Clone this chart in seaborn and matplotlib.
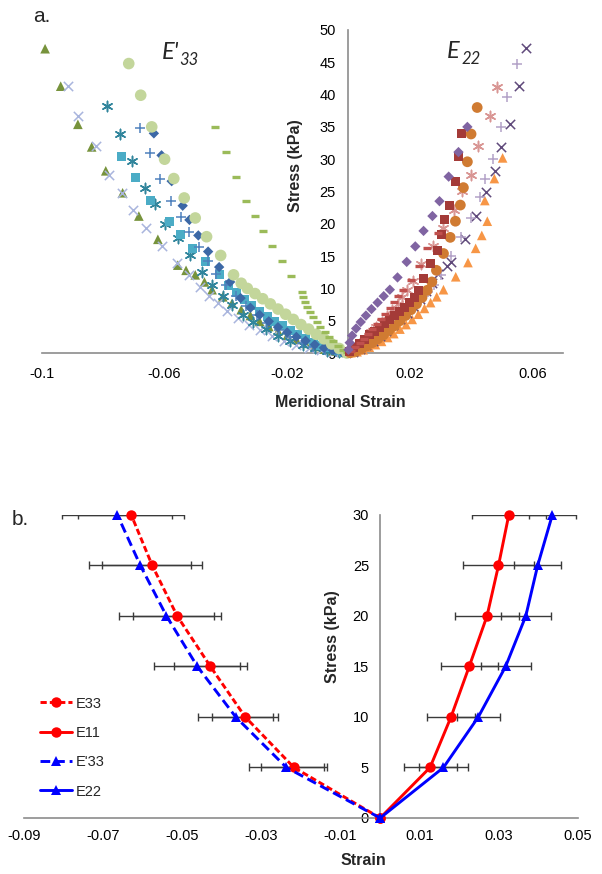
import numpy as np
import pandas as pd
import seaborn as sns
import matplotlib.pyplot as plt

# ---------------- panel a: individual specimens (strain, stress kPa) ----------------
# left branch, E'33
tri_g_x = [-0.0990, -0.0939, -0.0883, -0.0838, -0.0792, -0.0737, -0.0684, -0.0622, -0.0557, -0.0530, -0.0500,
           -0.0470, -0.0445, -0.0410, -0.0380, -0.0350, -0.0320, -0.0290, -0.0260, -0.0230, -0.0200, -0.0170,
           -0.0140, -0.0110, -0.0080, -0.0050, -0.0020]
tri_g_y = [47.1, 41.3, 35.4, 31.9, 28.2, 24.8, 21.2, 17.6, 13.6, 12.8, 12.1, 11.0, 9.8, 8.7, 7.7, 6.7, 5.8, 4.9,
           4.1, 3.4, 2.7, 2.1, 1.5, 1.0, 0.6, 0.3, 0.1]
xl_x = [-0.0915, -0.0883, -0.0825, -0.0782, -0.0740, -0.0704, -0.0660, -0.0610, -0.0560, -0.0520, -0.0485,
        -0.0455, -0.0425, -0.0395, -0.0360, -0.0325, -0.0290, -0.0250, -0.0210, -0.0170, -0.0130, -0.0090, -0.0050]
xl_y = [41.3, 36.7, 32.1, 27.6, 24.8, 22.1, 19.3, 16.5, 14.0, 12.0, 10.2, 8.9, 7.8, 6.5, 5.4, 4.4, 3.5, 2.7, 1.9,
        1.3, 0.8, 0.4, 0.2]
ast_t_x = [-0.0789, -0.0746, -0.0707, -0.0665, -0.0632, -0.0600, -0.0557, -0.0518, -0.0478, -0.0445, -0.0410,
           -0.0380, -0.0345, -0.0310, -0.0270, -0.0230, -0.0190, -0.0150, -0.0110, -0.0070, -0.0030]
ast_t_y = [38.2, 33.9, 29.7, 25.5, 23.0, 20.0, 17.8, 15.2, 12.6, 10.5, 8.9, 7.4, 5.9, 4.8, 3.7, 2.7, 1.9, 1.2,
           0.7, 0.3, 0.1]
sq_c_x = [-0.0740, -0.0694, -0.0645, -0.0585, -0.0548, -0.0508, -0.0466, -0.0420, -0.0390, -0.0365, -0.0340,
          -0.0315, -0.0290, -0.0265, -0.0240, -0.0215, -0.0190, -0.0165, -0.0140, -0.0115, -0.0090, -0.0065,
          -0.0040, -0.0015]
sq_c_y = [30.4, 27.1, 23.6, 20.4, 18.4, 16.2, 14.1, 12.1, 10.4, 9.3, 8.3, 7.3, 6.5, 5.7, 4.9, 4.2, 3.5, 2.9,
          2.3, 1.7, 1.2, 0.8, 0.4, 0.1]
pl_b_x = [-0.0681, -0.0649, -0.0614, -0.0578, -0.0548, -0.0520, -0.0489, -0.0460, -0.0432, -0.0400, -0.0368,
          -0.0335, -0.0300, -0.0265, -0.0228, -0.0190, -0.0152, -0.0115, -0.0078, -0.0040]
pl_b_y = [34.8, 31.0, 27.0, 23.5, 21.0, 18.7, 16.4, 14.2, 12.3, 10.5, 8.8, 7.3, 5.9, 4.6, 3.5, 2.5, 1.6, 0.9,
          0.4, 0.15]
dm_b_x = [-0.0635, -0.0610, -0.0577, -0.0541, -0.0519, -0.0490, -0.0458, -0.0422, -0.0386, -0.0352, -0.0320,
          -0.0290, -0.0260, -0.0230, -0.0200, -0.0170, -0.0140, -0.0110, -0.0080, -0.0050, -0.0020]
dm_b_y = [34.0, 30.6, 26.6, 22.8, 20.6, 18.2, 15.7, 13.3, 11.0, 8.5, 7.0, 5.9, 4.9, 4.0, 3.2, 2.5, 1.9, 1.3,
          0.8, 0.4, 0.1]
ci_g_x = [-0.0717, -0.0678, -0.0642, -0.0600, -0.0570, -0.0536, -0.0500, -0.0463, -0.0417, -0.0375, -0.0350,
          -0.0330, -0.0305, -0.0280, -0.0255, -0.0230, -0.0205, -0.0180, -0.0155, -0.0130, -0.0105, -0.0080,
          -0.0055, -0.0030, -0.0005]
ci_g_y = [44.8, 39.9, 35.0, 30.0, 27.0, 24.0, 20.9, 18.0, 15.1, 12.1, 10.8, 10.0, 9.2, 8.4, 7.6, 6.8, 6.0, 5.2,
          4.4, 3.7, 2.9, 2.2, 1.4, 0.7, 0.0]
da_g_x = [-0.0434, -0.0401, -0.0368, -0.0333, -0.0306, -0.0280, -0.0251, -0.0218, -0.0187, -0.0153, -0.0148,
          -0.0141, -0.0134, -0.0125, -0.0115, -0.0104, -0.0092, -0.0078, -0.0064, -0.0049, -0.0034, -0.0018,
          -0.0005]
da_g_y = [35.0, 31.1, 27.3, 23.5, 21.2, 18.9, 16.6, 14.2, 11.9, 9.5, 8.7, 7.9, 7.1, 6.3, 5.5, 4.8, 4.0, 3.2,
          2.5, 1.8, 1.1, 0.5, 0.1]

# right branch, E22
tri_o_x = [0.0503, 0.0476, 0.0445, 0.0453, 0.0435, 0.0415, 0.0390, 0.0350, 0.0310, 0.0288, 0.0268, 0.0248,
           0.0228, 0.0208, 0.0188, 0.0168, 0.0148, 0.0128, 0.0108, 0.0088, 0.0068, 0.0048, 0.0028, 0.0008]
tri_o_y = [30.2, 27.0, 23.6, 20.4, 18.2, 16.2, 14.0, 11.8, 9.8, 8.7, 7.8, 6.9, 6.0, 5.2, 4.4, 3.7, 3.0, 2.4,
           1.8, 1.3, 0.9, 0.5, 0.2, 0.05]
xd_x = [0.0580, 0.0557, 0.0528, 0.0499, 0.0479, 0.0450, 0.0417, 0.0380, 0.0336, 0.0320, 0.0292, 0.0272, 0.0252,
        0.0232, 0.0211, 0.0190, 0.0168, 0.0146, 0.0124, 0.0102, 0.0080, 0.0058, 0.0036, 0.0014]
xd_y = [47.2, 41.3, 35.5, 31.9, 28.2, 24.9, 21.2, 17.6, 14.1, 13.5, 12.2, 10.8, 9.6, 8.4, 7.3, 6.2, 5.2, 4.3,
        3.4, 2.6, 1.9, 1.2, 0.6, 0.2]
pl_l_x = [0.0551, 0.0518, 0.0499, 0.0472, 0.0445, 0.0428, 0.0400, 0.0368, 0.0336, 0.0303, 0.0280, 0.0258,
          0.0236, 0.0214, 0.0192, 0.0170, 0.0148, 0.0126, 0.0104, 0.0082, 0.0060, 0.0038, 0.0016]
pl_l_y = [44.7, 39.7, 35.0, 30.0, 27.0, 24.1, 20.9, 17.9, 15.0, 12.1, 10.6, 9.4, 8.3, 7.3, 6.3, 5.4, 4.5, 3.7,
          2.9, 2.2, 1.5, 0.9, 0.3]
ast_p_x = [0.0486, 0.0462, 0.0424, 0.0401, 0.0372, 0.0345, 0.0307, 0.0277, 0.0238, 0.0209, 0.0190, 0.0176,
           0.0160, 0.0143, 0.0126, 0.0108, 0.0090, 0.0072, 0.0054, 0.0036, 0.0018, 0.0004]
ast_p_y = [41.2, 36.7, 32.1, 27.6, 25.0, 22.1, 19.3, 16.5, 13.8, 11.2, 9.8, 8.6, 7.6, 6.6, 5.7, 4.8, 4.0, 3.2,
           2.4, 1.6, 0.8, 0.2]
ci_o_x = [0.0420, 0.0400, 0.0388, 0.0375, 0.0365, 0.0349, 0.0332, 0.0310, 0.0287, 0.0272, 0.0257, 0.0240,
          0.0222, 0.0204, 0.0186, 0.0168, 0.0150, 0.0132, 0.0114, 0.0096, 0.0078, 0.0060, 0.0042, 0.0024, 0.0006]
ci_o_y = [38.0, 33.9, 29.6, 25.6, 22.9, 20.4, 17.9, 15.4, 12.8, 11.0, 9.7, 8.6, 7.6, 6.7, 5.8, 5.0, 4.2, 3.5,
          2.8, 2.2, 1.6, 1.1, 0.6, 0.25, 0.05]
sq_r_x = [0.0368, 0.0358, 0.0349, 0.0329, 0.0312, 0.0303, 0.0290, 0.0268, 0.0245, 0.0230, 0.0215, 0.0199,
          0.0182, 0.0166, 0.0150, 0.0134, 0.0117, 0.0101, 0.0085, 0.0068, 0.0052, 0.0036, 0.0018, 0.0003]
sq_r_y = [34.0, 30.4, 26.6, 22.9, 20.6, 18.3, 15.9, 13.8, 11.5, 9.6, 8.6, 7.8, 7.1, 6.5, 5.8, 5.2, 4.6, 4.0,
          3.4, 2.8, 2.1, 1.4, 0.8, 0.2]
da_r_x = [0.0292, 0.0255, 0.0230, 0.0203, 0.0177, 0.0162, 0.0148, 0.0134, 0.0120, 0.0106, 0.0092, 0.0078,
          0.0064, 0.0050, 0.0036, 0.0022, 0.0008]
da_r_y = [18.5, 16.3, 13.5, 11.3, 9.8, 8.8, 7.9, 7.0, 6.1, 5.3, 4.5, 3.7, 2.9, 2.2, 1.5, 0.9, 0.3]
dm_p_x = [0.0388, 0.0359, 0.0327, 0.0297, 0.0274, 0.0245, 0.0218, 0.0190, 0.0160, 0.0135, 0.0115, 0.0095,
          0.0075, 0.0057, 0.0040, 0.0025, 0.0012, 0.0004, 0.0000]
dm_p_y = [35.0, 31.1, 27.3, 23.5, 21.2, 18.9, 16.5, 14.1, 11.7, 9.8, 8.8, 7.8, 6.8, 5.8, 4.8, 3.8, 2.7, 1.6, 0.5]

top_xticks = [-0.1, -0.06, -0.02, 0.02, 0.06]
top_xticklabels = ['-0.1', '-0.06', '-0.02', '0.02', '0.06']
top_yticks = [0, 5, 10, 15, 20, 25, 30, 35, 40, 45, 50]

# ---------------- panel b: means with SD ----------------
stress = [0, 5, 10, 15, 20, 25, 30]
e33_x = [0, -0.0218, -0.0341, -0.0429, -0.0513, -0.0576, -0.0629]
e33_sd = [0, 0.0083, 0.0083, 0.0092, 0.0111, 0.0126, 0.0134]
e11_x = [0, 0.0126, 0.0179, 0.0225, 0.0270, 0.0299, 0.0325]
e11_sd = [0, 0.0067, 0.0060, 0.0072, 0.0082, 0.0089, 0.0093]
e33p_x = [0, -0.0237, -0.0365, -0.0462, -0.0540, -0.0606, -0.0664]
e33p_sd = [0, 0.0095, 0.0095, 0.0109, 0.0120, 0.0129, 0.0139]
e22_x = [0, 0.0160, 0.0248, 0.0317, 0.0368, 0.0398, 0.0435]
e22_sd = [0, 0.0061, 0.0055, 0.0063, 0.0063, 0.0059, 0.0060]

bot_xticks = [-0.09, -0.07, -0.05, -0.03, -0.01, 0.01, 0.03, 0.05]
bot_xticklabels = ['-0.09', '-0.07', '-0.05', '-0.03', '-0.01', '0.01', '0.03', '0.05']
bot_yticks = [0, 5, 10, 15, 20, 25, 30]

sns.set_style('white')
plt.rcParams['font.family'] = ['Liberation Sans', 'DejaVu Sans']
plt.rcParams['lines.scale_dashes'] = False

fig = plt.figure(figsize=(6.02, 8.74), dpi=100)
ax1 = fig.add_axes([0.0698, 0.5961, 0.8654, 0.3696])
ax2 = fig.add_axes([0.0399, 0.0641, 0.9203, 0.3467])

ast = (6, 2, 0)
# (x, y, marker, colour, size, linewidth, filled)
series = [
    (tri_g_x, tri_g_y, '^', '#77933C', 48, 0, True),
    (xl_x, xl_y, 'x', '#A9B5DD', 45, 1.1, False),
    (ast_t_x, ast_t_y, ast, '#31859C', 55, 1.1, False),
    (sq_c_x, sq_c_y, 's', '#4BACC6', 42, 0, True),
    (pl_b_x, pl_b_y, '+', '#4F81BD', 50, 1.1, False),
    (dm_b_x, dm_b_y, 'D', '#3C68A6', 28, 0, True),
    (ci_g_x, ci_g_y, 'o', '#C3D69B', 70, 0, True),
    (da_g_x, da_g_y, '_', '#9BBB59', 36, 2.4, False),
    (tri_o_x, tri_o_y, '^', '#F79646', 48, 0, True),
    (xd_x, xd_y, 'x', '#604A7B', 45, 1.1, False),
    (pl_l_x, pl_l_y, '+', '#B3A2C7', 50, 1.1, False),
    (ast_p_x, ast_p_y, ast, '#D99694', 55, 1.1, False),
    (ci_o_x, ci_o_y, 'o', '#D07B32', 60, 0, True),
    (sq_r_x, sq_r_y, 's', '#A43B38', 42, 0, True),
    (da_r_x, da_r_y, '_', '#C0504D', 36, 2.4, False),
    (dm_p_x, dm_p_y, 'D', '#8064A2', 28, 0, True),
]
for i, (xs, ys, m, c, s, lw, filled) in enumerate(series):
    if filled:
        sns.scatterplot(x=xs, y=ys, ax=ax1, marker=m, s=s, color=c, edgecolor='none',
                        linewidth=0, clip_on=False, zorder=3 + i * 0.1)
    else:
        sns.scatterplot(x=xs, y=ys, ax=ax1, marker=m, s=s, color=c, linewidth=lw,
                        clip_on=False, zorder=3 + i * 0.1)

axis_col = '#8C8C8C'
for ax in (ax1, ax2):
    ax.spines['top'].set_visible(False)
    ax.spines['right'].set_visible(False)
    ax.spines['left'].set_position(('data', 0))
    for sp in ('left', 'bottom'):
        ax.spines[sp].set_color(axis_col)
        ax.spines[sp].set_linewidth(1.2)
    ax.tick_params(axis='both', direction='out', length=4, width=1, color=axis_col,
                   labelsize=10.5, labelcolor='black')
    ax.set_facecolor('none')

ax1.set_xlim(-0.1, 0.07)
ax1.set_ylim(0, 50)
ax1.set_xticks(top_xticks, top_xticklabels)
ax1.set_yticks(top_yticks)
ax1.tick_params(axis='x', pad=6)
ax1.tick_params(axis='y', pad=5)
ax1.set_xlabel('Meridional Strain', fontsize=11.5, fontweight='bold')
ax1.set_ylabel('Stress (kPa)', fontsize=11.5, fontweight='bold')
ax1.xaxis.set_label_coords(0.572, -0.13)
ax1.yaxis.set_label_coords(0.487, 0.58)
ax1.yaxis.label.set_va('center')

# panel b
sd_sets = [(e33_x, e33_sd), (e11_x, e11_sd), (e33p_x, e33p_sd), (e22_x, e22_sd)]
for xs, sd in sd_sets:
    ax2.errorbar(xs[1:], stress[1:], xerr=sd[1:], fmt='none', ecolor='#3A3A3A', elinewidth=1,
                 capsize=2.6, capthick=1, zorder=2)

lines = [
    (e33_x, 'E33', '#FF0000', 'o', 7.5, [4.5, 2.2]),
    (e11_x, 'E11', '#FF0000', 'o', 7.5, None),
    (e33p_x, "E'33", '#0000FF', '^', 7.5, [7, 3.5]),
    (e22_x, 'E22', '#0000FF', '^', 7.5, None),
]
for xs, lab, c, m, ms, dash in lines:
    df = pd.DataFrame({'strain': xs, 'stress': stress})
    sns.lineplot(data=df, x='strain', y='stress', ax=ax2, color=c, marker=m, markersize=ms,
                 markeredgewidth=0, linewidth=2.1, sort=False, label=lab, zorder=4, clip_on=False)
    if dash is not None:
        ax2.lines[-1].set_dashes(dash)

ax2.set_xlim(-0.09, 0.05)
ax2.set_ylim(0, 30)
ax2.set_xticks(bot_xticks, bot_xticklabels)
ax2.set_yticks(bot_yticks)
ax2.tick_params(axis='x', pad=4)
ax2.tick_params(axis='y', pad=4)
ax2.set_xlabel('Strain', fontsize=11.5, fontweight='bold')
ax2.set_ylabel('Stress (kPa)', fontsize=11.5, fontweight='bold')
ax2.xaxis.set_label_coords(0.612, -0.115)
ax2.yaxis.set_label_coords(0.556, 0.597)
ax2.yaxis.label.set_va('center')

h, l = ax2.get_legend_handles_labels()
ax2.legend(h, l, loc='upper left', bbox_to_anchor=(0.066, 0.203), bbox_transform=fig.transFigure,
           frameon=False, fontsize=10.5, handlelength=2.2, handletextpad=0.3, labelspacing=1.05,
           borderaxespad=0, borderpad=0)

# panel letters and strain-component annotations
fig.text(33 / 602, 1 - 22 / 874, 'a.', fontsize=15, va='baseline')
fig.text(12 / 602, 1 - 525 / 874, 'b.', fontsize=15, va='baseline')
fig.text(162 / 602, 1 - 59 / 874, "E'", fontsize=17, style='italic', family='Lato', va='baseline')
fig.text(179 / 602, 1 - 65 / 874, '33', fontsize=12, style='italic', family='Lato', va='baseline')
fig.text(447 / 602, 1 - 58 / 874, 'E', fontsize=17, style='italic', family='Lato', va='baseline')
fig.text(462 / 602, 1 - 64 / 874, '22', fontsize=12, style='italic', family='Lato', va='baseline')

fig.savefig('out.png', dpi=100)
